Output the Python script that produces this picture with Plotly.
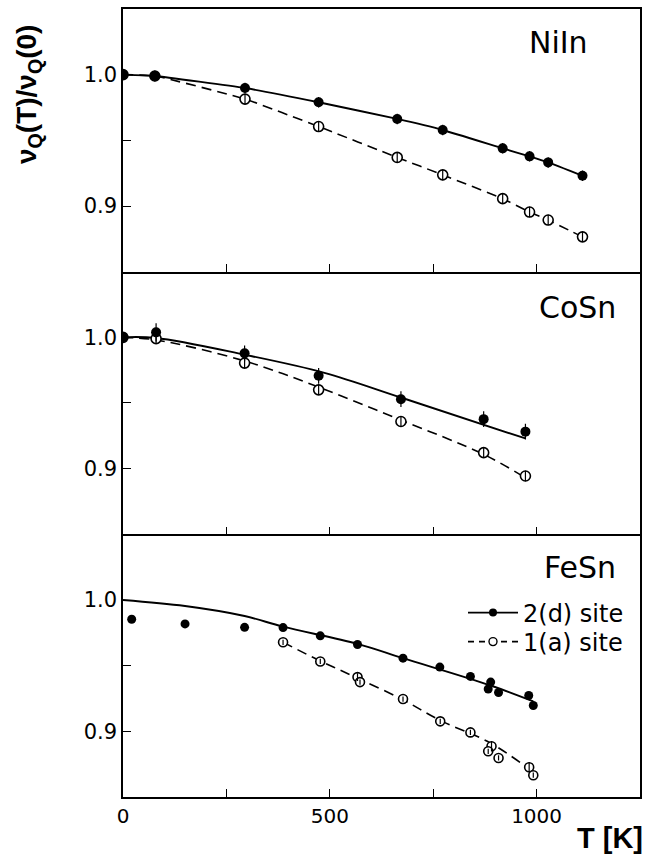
import plotly.graph_objects as go
from plotly.subplots import make_subplots

# ---------------- data ----------------
# NiIn
niin_T = [0, 77, 295, 473, 663, 773, 918, 983, 1028, 1111]
niin_2d = [1.000, 0.999, 0.9898, 0.979, 0.9663, 0.9579, 0.9439, 0.9378, 0.9332, 0.923]
niin_2d_err = [0.003, 0.004, 0.004, 0.004, 0.004, 0.004, 0.004, 0.004, 0.004, 0.004]
niin_1a = [1.000, 0.999, 0.9814, 0.9605, 0.937, 0.9237, 0.9056, 0.8954, 0.8893, 0.8765]
niin_1a_err = [0.003, 0.004, 0.004, 0.004, 0.004, 0.004, 0.004, 0.004, 0.004, 0.004]

# CoSn
cosn_T = [0, 80, 294, 473, 672, 872, 973]
cosn_2d = [1.000, 1.0038, 0.9878, 0.9707, 0.9529, 0.9377, 0.9282]
cosn_2d_err = [0.002, 0.007, 0.006, 0.006, 0.006, 0.006, 0.006]
cosn_1a = [1.000, 0.999, 0.9804, 0.960, 0.9359, 0.9122, 0.8944]
cosn_1a_err = [0.002, 0.004, 0.004, 0.004, 0.004, 0.004, 0.004]
cosn_fit2d_T = [0, 80, 294, 487, 672, 973]
cosn_fit2d = [1.000, 0.9995, 0.9868, 0.973, 0.9542, 0.923]
cosn_fit1a_T = [0, 80, 294, 473, 672, 872, 973]
cosn_fit1a = [1.000, 0.998, 0.982, 0.9621, 0.937, 0.9109, 0.893]

# FeSn
fesn_2d_T = [21, 150, 294, 387, 477, 567, 677, 766, 840, 889, 883, 908, 981, 992]
fesn_2d = [0.9853, 0.9818, 0.9792, 0.979, 0.9727, 0.9661, 0.9557, 0.9489, 0.9418,
           0.9375, 0.9322, 0.9296, 0.9273, 0.9197]
fesn_1a_T = [387, 477, 567, 573, 677, 767, 840, 891, 883, 908, 982, 992]
fesn_1a = [0.9678, 0.9532, 0.9413, 0.9375, 0.9246, 0.9076, 0.8992, 0.8886, 0.8848,
           0.8797, 0.8727, 0.8666]
fesn_1a_err = [0.002, 0.002, 0.003, 0.002, 0.002, 0.002, 0.002, 0.004, 0.002, 0.002, 0.004, 0.002]
fesn_fit2d_T = [0, 150, 294, 387, 567, 677, 889, 992]
fesn_fit2d = [1.000, 0.9954, 0.9878, 0.9797, 0.9666, 0.9557, 0.9349, 0.9228]
fesn_fit1a_T = [387, 477, 567, 677, 767, 889, 992]
fesn_fit1a = [0.9678, 0.9536, 0.9405, 0.924, 0.9083, 0.891, 0.869]

panel_names = ["NiIn", "CoSn", "FeSn"]
legend_names = ["2(d) site", "1(a) site"]
x_tickvals = [0, 250, 500, 750, 1000, 1250]
x_ticktext = ["0", " ", "500", " ", "1000", " "]
y_tickvals = [0.9, 0.95, 1.0]
y_ticktext = ["0.9", " ", "1.0"]

# ---------------- figure ----------------
fig = make_subplots(rows=3, cols=1, vertical_spacing=0)

BLACK = "black"
DASH = "10px,6px"


def err(arr):
    return dict(type="data", array=arr, visible=True, color=BLACK, thickness=1.2, width=0)


def err_overlay(x, y, e, row):
    # error bars drawn on top of the white-filled open circles (gives the "Φ" look)
    fig.add_trace(go.Scatter(x=x, y=y, mode="markers", error_y=err(e),
                             marker=dict(size=2, color="rgba(0,0,0,0)"),
                             showlegend=False, hoverinfo="skip"), row=row, col=1)


fill_marker = dict(symbol="circle", size=10, color=BLACK)
open_marker = dict(symbol="circle", size=10, color="white", line=dict(width=1.6, color=BLACK))

# NiIn
fig.add_trace(go.Scatter(x=niin_T, y=niin_1a, mode="lines+markers",
                         line=dict(color=BLACK, width=1.6, dash=DASH, shape="spline", smoothing=0.4),
                         marker=open_marker, showlegend=False), row=1, col=1)
err_overlay(niin_T, niin_1a, niin_1a_err, 1)
fig.add_trace(go.Scatter(x=niin_T, y=niin_2d, mode="lines+markers", error_y=err(niin_2d_err),
                         line=dict(color=BLACK, width=1.9, shape="spline", smoothing=0.4),
                         marker=fill_marker, showlegend=False), row=1, col=1)

# CoSn
fig.add_trace(go.Scatter(x=cosn_fit1a_T, y=cosn_fit1a, mode="lines",
                         line=dict(color=BLACK, width=1.6, dash=DASH, shape="spline"),
                         showlegend=False), row=2, col=1)
fig.add_trace(go.Scatter(x=cosn_fit2d_T, y=cosn_fit2d, mode="lines",
                         line=dict(color=BLACK, width=1.9, shape="spline"),
                         showlegend=False), row=2, col=1)
fig.add_trace(go.Scatter(x=cosn_T, y=cosn_1a, mode="markers",
                         marker=open_marker, showlegend=False), row=2, col=1)
err_overlay(cosn_T, cosn_1a, cosn_1a_err, 2)
fig.add_trace(go.Scatter(x=cosn_T, y=cosn_2d, mode="markers", error_y=err(cosn_2d_err),
                         marker=fill_marker, showlegend=False), row=2, col=1)

# FeSn
fig.add_trace(go.Scatter(x=fesn_fit1a_T, y=fesn_fit1a, mode="lines",
                         line=dict(color=BLACK, width=1.6, dash=DASH, shape="spline"),
                         showlegend=False), row=3, col=1)
fig.add_trace(go.Scatter(x=fesn_fit2d_T, y=fesn_fit2d, mode="lines",
                         line=dict(color=BLACK, width=1.9, shape="spline"),
                         showlegend=False), row=3, col=1)
fig.add_trace(go.Scatter(x=fesn_1a_T, y=fesn_1a, mode="markers",
                         marker=dict(symbol="circle", size=9, color="white",
                                     line=dict(width=1.6, color=BLACK)),
                         showlegend=False), row=3, col=1)
err_overlay(fesn_1a_T, fesn_1a, fesn_1a_err, 3)
fig.add_trace(go.Scatter(x=fesn_2d_T, y=fesn_2d, mode="markers",
                         marker=dict(symbol="circle", size=9, color=BLACK), showlegend=False),
              row=3, col=1)

# legend entries (two separate legends so each row can be placed like the reference)
fig.add_trace(go.Scatter(x=[None], y=[None], mode="lines+markers", name=legend_names[0],
                         legend="legend",
                         line=dict(color=BLACK, width=1.8),
                         marker=dict(symbol="circle", size=8, color=BLACK)), row=3, col=1)
fig.add_trace(go.Scatter(x=[None], y=[None], mode="lines+markers", name=legend_names[1],
                         legend="legend2",
                         line=dict(color=BLACK, width=1.6, dash="6px,5px"),
                         marker=dict(symbol="circle", size=8, color="white",
                                     line=dict(width=1.4, color=BLACK))), row=3, col=1)

FONT = "DejaVu Sans"
for r in (1, 2, 3):
    fig.update_xaxes(range=[0, 1250], tickvals=x_tickvals, ticktext=x_ticktext,
                     ticks="inside", ticklen=8, tickwidth=1.2, tickcolor=BLACK,
                     showline=True, linecolor=BLACK, linewidth=1.5, mirror=(r == 1),
                     showgrid=False, zeroline=False, showticklabels=(r == 3),
                     tickfont=dict(family=FONT, size=20, color=BLACK), row=r, col=1)
    fig.update_yaxes(range=[0.85, 1.05], tickvals=y_tickvals, ticktext=y_ticktext,
                     ticks="inside", ticklen=8, tickwidth=1.2, tickcolor=BLACK,
                     showline=True, linecolor=BLACK, linewidth=1.5, mirror=True,
                     showgrid=False, zeroline=False,
                     tickfont=dict(family=FONT, size=21, color=BLACK), row=r, col=1)

L, T_, W, H = 123, 9, 517, 788


def px2paper(px, py):
    return (px - L) / W, 1 - (py - T_) / H


annotations = []
label_pos = [(590, 43), (618, 307), (618, 567)]
for name, (px, py) in zip(panel_names, label_pos):
    ax_, ay_ = px2paper(px, py)
    annotations.append(dict(text=name, xref="paper", yref="paper", x=ax_, y=ay_,
                            xanchor="right", yanchor="middle", showarrow=False,
                            font=dict(family=FONT, size=30, color=BLACK)))
ax_, ay_ = px2paper(28, 95)
annotations.append(dict(text="<b>ν<sub>Q</sub>(T)/ν<sub>Q</sub>(0)</b>", xref="paper", yref="paper",
                        x=ax_, y=ay_, textangle=-90,
                        xanchor="center", yanchor="middle", showarrow=False,
                        font=dict(family="Liberation Sans", size=28, color=BLACK)))
ax_, ay_ = px2paper(645, 856)
annotations.append(dict(text="<b>T [K]</b>", xref="paper", yref="paper",
                        x=ax_, y=ay_, xanchor="right", yanchor="bottom", showarrow=False,
                        font=dict(family="Liberation Sans", size=29, color=BLACK)))

leg_common = dict(xanchor="left", yanchor="middle", bgcolor="rgba(0,0,0,0)",
                  font=dict(family=FONT, size=24, color=BLACK), itemwidth=50)
l1x, l1y = px2paper(463, 613)
l2x, l2y = px2paper(463, 642)
fig.update_layout(
    width=648, height=860,
    margin=dict(l=L, r=648 - L - W, t=T_, b=860 - T_ - H, autoexpand=False),
    paper_bgcolor="white", plot_bgcolor="white",
    annotations=annotations,
    showlegend=True,
    legend=dict(x=l1x, y=l1y, **leg_common),
    legend2=dict(x=l2x, y=l2y, **leg_common),
)

fig.write_html("out.html", config={"displayModeBar": False},
               post_script="document.body.style.margin='0';document.body.style.overflow='hidden';")
